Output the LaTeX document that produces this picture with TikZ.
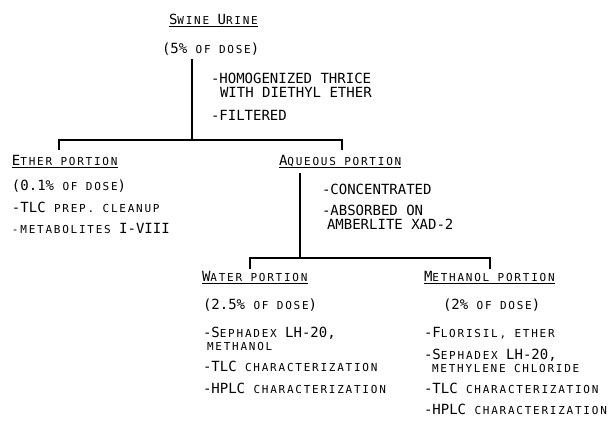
\documentclass[tikz,border=0pt]{standalone}
\usepackage{fontspec}
\newfontfamily\bigf{DejaVu Sans Mono}
\newfontfamily\smf[LetterSpace=16]{DejaVu Sans Mono}
\newcommand\BG{\fontsize{14}{16}\selectfont\bigf}
\newcommand\sm[1]{{\fontsize{11}{13}\selectfont\smf #1}}
\tikzset{
  txt/.style={anchor=base west, inner sep=0pt, outer sep=0pt, font=\BG},
  vline/.style={line width=2.6pt},
  bar/.style={line width=1.9pt, line join=miter},
  uline/.style={line width=1.1pt},
}
\begin{document}
\begin{tikzpicture}[x=1pt,y=1pt]
\useasboundingbox (0,0) rectangle (610,-423);
% top
\node[txt] (sw) at (169,-24) {S\sm{WINE} U\sm{RINE}};
\node[txt] (sd) at (162,-53) {(5\%\sm{ OF DOSE})};
\node[txt] (h1) at (211,-83) {-HOMOGENIZED THRICE};
\node[txt] (h2) at (220,-97) {WITH DIETHYL ETHER};
\node[txt] (h3) at (211,-120) {-FILTERED};
% ether
\node[txt] (et) at (12,-165) {E\sm{THER PORTION}};
\node[txt] (ed) at (12,-190) {(0.1\%\sm{ OF DOSE})};
\node[txt] (e1) at (12,-212) {-TLC\sm{ PREP. CLEANUP}};
\node[txt] (e2) at (12,-233) {\sm{-METABOLITES }I-VIII};
% aqueous
\node[txt] (aq) at (279,-165) {A\sm{QUEOUS PORTION}};
\node[txt] (a1) at (322,-194) {-CONCENTRATED};
\node[txt] (a2) at (322,-215) {-ABSORBED ON};
\node[txt] (a3) at (327,-229) {AMBERLITE XAD-2};
% water
\node[txt] (wa) at (202,-281) {W\sm{ATER PORTION}};
\node[txt] (wd) at (203,-309) {(2.5\%\sm{ OF DOSE})};
\node[txt] (w1) at (203,-337) {-S\sm{EPHADEX }LH-20,};
\node[txt] (w2) at (207,-350) {\sm{METHANOL}};
\node[txt] (w3) at (203,-371) {-TLC\sm{ CHARACTERIZATION}};
\node[txt] (w4) at (203,-393) {-HPLC\sm{ CHARACTERIZATION}};
% methanol
\node[txt] (me) at (424,-281) {M\sm{ETHANOL PORTION}};
\node[txt] (md) at (443,-309) {(2\%\sm{ OF DOSE})};
\node[txt] (m1) at (424,-337) {-F\sm{LORISIL, ETHER}};
\node[txt] (m2) at (424,-359) {-S\sm{EPHADEX }LH-20,};
\node[txt] (m3) at (432,-372) {\sm{METHYLENE CHLORIDE}};
\node[txt] (m4) at (424,-393) {-TLC\sm{ CHARACTERIZATION}};
\node[txt] (m5) at (424,-414) {-HPLC\sm{ CHARACTERIZATION}};
% underlines
\foreach \n in {sw,et,aq,wa,me}
  \draw[uline] ([yshift=-2.2pt]\n.base west) -- ([yshift=-2.2pt]\n.base east);
% connectors
\coordinate (v1) at (192,-59);
\coordinate (j1) at (192,-140);
\coordinate (t1) at (59,-150);
\coordinate (t2) at (342,-150);
\draw[vline] (v1) -- (j1);
\draw[bar] (t1) |- (j1) -| (t2);
\coordinate (v2) at (300,-173);
\coordinate (j2) at (300,-258);
\coordinate (t3) at (250,-269);
\coordinate (t4) at (490,-269);
\draw[vline] (v2) -- (j2);
\draw[bar] (t3) |- (j2) -| (t4);
\end{tikzpicture}
\end{document}
